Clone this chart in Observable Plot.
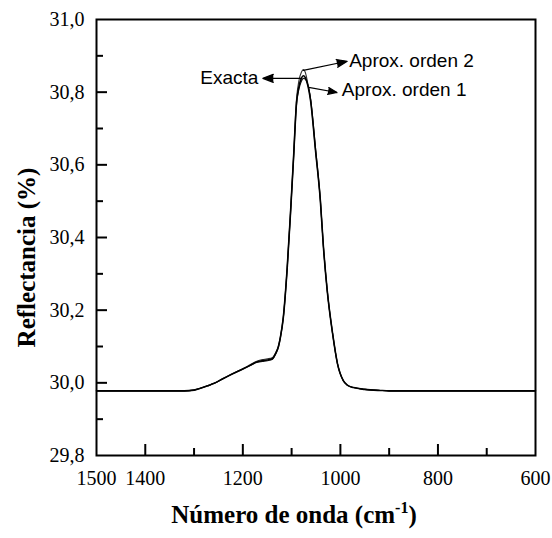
<!DOCTYPE html>
<html>
<head>
<meta charset="utf-8">
<script src="https://cdn.jsdelivr.net/npm/d3@7"></script>
<script src="https://cdn.jsdelivr.net/npm/@observablehq/plot@0.6"></script>
<style>
  html, body { margin: 0; padding: 0; background: #fff; }
  #chart svg { display: block; background: #fff; }
</style>
</head>
<body>
<div id="chart"></div>
<script>
// Reflectance spectrum: exact calculation vs. first- and second-order approximations
const wavenumber = [1500, 1400, 1320, 1300, 1287, 1270, 1260, 1240, 1219, 1200, 1185, 1174, 1160, 1150, 1139, 1133, 1127, 1123, 1117, 1109, 1102, 1096, 1090, 1085, 1080, 1076, 1072, 1068, 1061, 1051, 1041, 1035, 1027, 1016, 1006, 994, 985, 973, 950, 918, 900, 800, 700, 600];

const exacta = [29.978, 29.978, 29.978, 29.980, 29.985, 29.993, 29.998, 30.012, 30.026, 30.038, 30.048, 30.056, 30.061, 30.063, 30.067, 30.080, 30.100, 30.125, 30.180, 30.317, 30.474, 30.620, 30.770, 30.815, 30.838, 30.845, 30.840, 30.825, 30.775, 30.640, 30.500, 30.378, 30.254, 30.136, 30.053, 30.006, 29.993, 29.987, 29.982, 29.979, 29.978, 29.978, 29.978, 29.978];

const ordenUno = [29.978, 29.978, 29.978, 29.980, 29.985, 29.993, 29.998, 30.012, 30.026, 30.038, 30.048, 30.055, 30.059, 30.061, 30.065, 30.078, 30.098, 30.123, 30.178, 30.314, 30.470, 30.616, 30.764, 30.808, 30.830, 30.838, 30.836, 30.826, 30.782, 30.646, 30.504, 30.380, 30.255, 30.136, 30.053, 30.006, 29.993, 29.987, 29.982, 29.979, 29.978, 29.978, 29.978, 29.978];

const ordenDos = [29.978, 29.978, 29.978, 29.980, 29.985, 29.993, 29.998, 30.012, 30.027, 30.039, 30.050, 30.058, 30.064, 30.066, 30.070, 30.082, 30.102, 30.127, 30.182, 30.320, 30.478, 30.625, 30.780, 30.832, 30.855, 30.862, 30.855, 30.832, 30.778, 30.640, 30.500, 30.378, 30.254, 30.136, 30.053, 30.006, 29.993, 29.987, 29.982, 29.979, 29.978, 29.978, 29.978, 29.978];

// Axis ticks
const xMajor = [1400, 1200, 1000, 800];
const xMinor = [1300, 1100, 900, 700];
const xLabels = [1500, 1400, 1200, 1000, 800, 600];
const yMajor = [30.0, 30.2, 30.4, 30.6, 30.8];
const yMinor = [29.9, 30.1, 30.3, 30.5, 30.7, 30.9];
const yLabels = [29.8, 30.0, 30.2, 30.4, 30.6, 30.8, 31.0];

// Annotations: arrow from the curve towards each label
const arrows = [
  {x1: 1080, y1: 30.838, x2: 1159, y2: 30.838},
  {x1: 1076, y1: 30.860, x2: 986,  y2: 30.885},
  {x1: 1065, y1: 30.813, x2: 1007, y2: 30.799}
];
const leftNotes = [{name: "Exacta", x: 1168, y: 30.840}];
const rightNotes = [
  {name: "Aprox. orden 2", x: 982, y: 30.887},
  {name: "Aprox. orden 1", x: 997, y: 30.807}
];

const toRows = (vals) => wavenumber.map((w, i) => ({w, r: vals[i]}));
const fmtComma = (d) => d.toFixed(1).replace(".", ",");
const serif = "'Liberation Serif', 'Times New Roman', serif";
const sans = "'Liberation Sans', Arial, sans-serif";

const W = 552, H = 538, ML = 96, MR = 17, MT = 19, MB = 83;
const innerW = W - ML - MR, innerH = H - MT - MB;

const plot = Plot.plot({
  width: W,
  height: H,
  marginLeft: ML,
  marginRight: MR,
  marginTop: MT,
  marginBottom: MB,
  style: {fontFamily: serif, fontSize: "20px", color: "black", background: "white"},
  x: {domain: [1500, 600], axis: null},
  y: {domain: [29.8, 31.0], axis: null},
  marks: [
    // inward tick marks along the bottom and left edges
    Plot.ruleX(xMajor, {insetTop: innerH - 11, stroke: "black", strokeWidth: 2}),
    Plot.ruleX(xMinor, {insetTop: innerH - 7, stroke: "black", strokeWidth: 2}),
    Plot.ruleY(yMajor, {insetRight: innerW - 11, stroke: "black", strokeWidth: 2}),
    Plot.ruleY(yMinor, {insetRight: innerW - 7, stroke: "black", strokeWidth: 2}),
    // tick labels
    Plot.axisX(xLabels, {tickSize: 0, tickPadding: 15, tickFormat: (d) => String(d), fontSize: 20, label: null}),
    Plot.axisY(yLabels, {tickSize: 0, tickPadding: 12, tickFormat: fmtComma, fontSize: 20, label: null}),
    // spectra
    Plot.line(toRows(ordenDos), {x: "w", y: "r", stroke: "#333", strokeWidth: 1.1, curve: "monotone-x"}),
    Plot.line(toRows(ordenUno), {x: "w", y: "r", stroke: "#111", strokeWidth: 1.1, curve: "monotone-x"}),
    Plot.line(toRows(exacta), {x: "w", y: "r", stroke: "black", strokeWidth: 1.6, curve: "monotone-x"}),
    // annotations
    Plot.arrow(arrows, {x1: "x1", y1: "y1", x2: "x2", y2: "y2", stroke: "black", fill: "black", strokeWidth: 1.2, headLength: 14, headAngle: 42}),
    Plot.text(leftNotes, {x: "x", y: "y", text: "name", textAnchor: "end", fontFamily: sans, fontSize: 19, fill: "black"}),
    Plot.text(rightNotes, {x: "x", y: "y", text: "name", textAnchor: "start", fontFamily: sans, fontSize: 19, fill: "black"}),
    // frame
    Plot.frame({stroke: "black", strokeWidth: 2}),
    // axis titles
    Plot.text(["Número de onda (cm-1)"], {frameAnchor: "bottom", textAnchor: "middle", dx: -22, dy: 67, fontFamily: serif, fontWeight: "bold", fontSize: 25, fill: "black"}),
    Plot.text(["Reflectancia (%)"], {frameAnchor: "left", textAnchor: "middle", dx: -70, dy: 20, rotate: -90, fontFamily: serif, fontWeight: "bold", fontSize: 25, fill: "black"})
  ]
});

// superscript exponent in the x-axis title
plot.querySelectorAll("text").forEach((t) => {
  if (t.textContent === "Número de onda (cm-1)") {
    t.textContent = "";
    const ns = "http://www.w3.org/2000/svg";
    const a = document.createElementNS(ns, "tspan");
    a.textContent = "Número de onda (cm";
    const b = document.createElementNS(ns, "tspan");
    b.textContent = "-1";
    b.setAttribute("font-size", "16");
    b.setAttribute("dy", "-10");
    const c = document.createElementNS(ns, "tspan");
    c.textContent = ")";
    c.setAttribute("dy", "10");
    t.append(a, b, c);
  }
});

document.getElementById("chart").appendChild(plot);
</script>
</body>
</html>
